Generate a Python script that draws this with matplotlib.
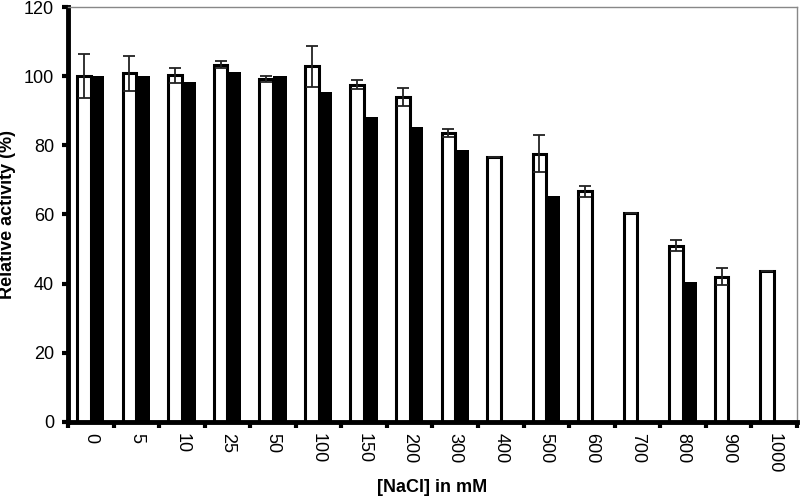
import numpy as np
import matplotlib.pyplot as plt

plt.rcParams['font.family'] = ['Liberation Sans', 'DejaVu Sans']

# NaCl concentrations (mM)
nacl = ['0', '5', '10', '25', '50', '100', '150', '200', '300', '400',
        '500', '600', '700', '800', '900', '1000']
# white bars (with error bars)
white_vals = [100, 100.8, 100.2, 103.3, 99.2, 102.8, 97.5, 94, 83.5, 76.5,
              77.6, 66.7, 60.3, 51, 42, 43.6]
white_err = [6.3, 5.0, 2.2, 1.0, 0.8, 5.8, 1.3, 2.5, 1.1, 0,
             5.4, 1.6, 0, 1.5, 2.4, 0]
# black bars (nan = no bar)
black_vals = [100, 100, 98.4, 101.2, 100, 95.3, 88.2, 85.4, 78.5, np.nan,
              65.3, np.nan, np.nan, 40.4, np.nan, np.nan]

x = np.arange(len(nacl))
w = 0.3

fig = plt.figure(figsize=(8, 5.01), dpi=100)
ax = fig.add_axes([0.085, 0.158, 0.911, 0.828])

ax.bar(x - w / 2, white_vals, w, color='white', edgecolor='black', linewidth=2.2,
       yerr=white_err, error_kw=dict(ecolor='#222222', elinewidth=1.3, capsize=4, capthick=1.3),
       zorder=2)
ax.bar(x + w / 2, black_vals, w, color='black', edgecolor='black', linewidth=0, zorder=2)

ax.set_xlim(-0.5, len(nacl) - 0.5)
ax.set_ylim(0, 120)
ax.set_yticks(np.arange(0, 121, 20))
ax.set_xticks(x)
ax.set_xticklabels(nacl, rotation=270, fontsize=13)
ax.set_xticks(np.arange(-0.5, len(nacl), 1), minor=True)
ax.tick_params(axis='x', which='major', length=0, pad=8)
ax.tick_params(axis='x', which='minor', length=4, width=3, direction='out')
ax.tick_params(axis='y', length=4, width=3, labelsize=13, pad=6)

for s in ['left', 'bottom']:
    ax.spines[s].set_linewidth(3.5)
    ax.spines[s].set_color('black')
for s in ['top', 'right']:
    ax.spines[s].set_linewidth(1)
    ax.spines[s].set_color('#888888')

ax.set_xlabel('[NaCl] in mM', fontsize=13, fontweight='bold', labelpad=4)
ax.set_ylabel('Relative activity (%)', fontsize=13, fontweight='bold', labelpad=6)

fig.savefig('out.png', dpi=100)
